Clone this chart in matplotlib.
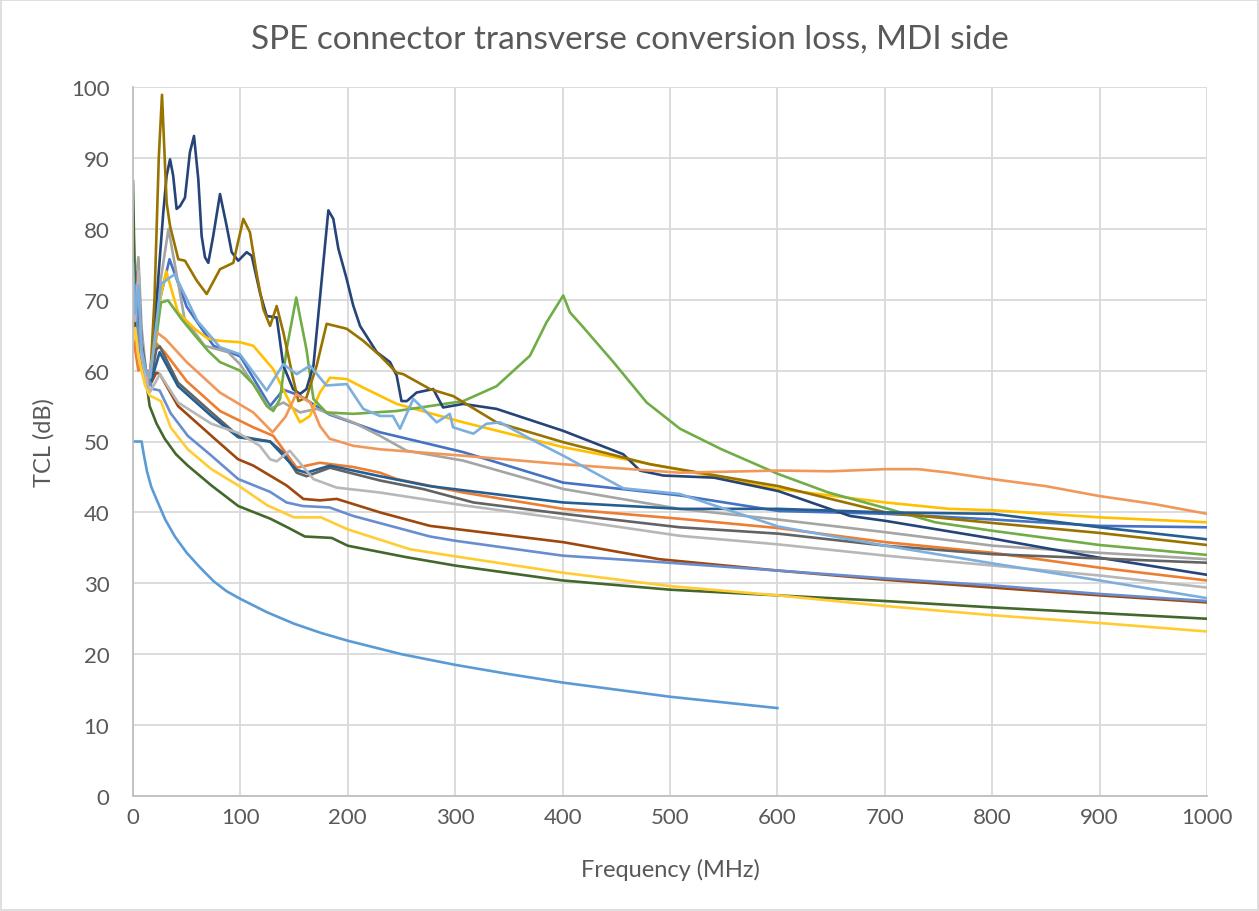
import matplotlib
matplotlib.use("Agg")
import matplotlib.pyplot as plt
from matplotlib.patches import Rectangle

plt.rcParams['font.family'] = ['Lato', 'DejaVu Sans']

# ---- data ----
f_limit = [0, 8, 10, 13, 17, 22, 30, 39, 50, 62, 75, 87, 100, 125, 150, 175, 200, 250, 300, 350, 400, 450, 500, 550, 600]
tcl_limit = [50, 50, 48.2, 45.8, 43.6, 41.8, 39.0, 36.6, 34.3, 32.3, 30.3, 28.9, 27.8, 25.9, 24.3, 23.0, 21.9, 20.0, 18.5, 17.2, 16.0, 15.0, 14.0, 13.2, 12.4]

f_dkgreen = [0, 2, 5, 8, 11, 15.5, 22, 29.5, 40, 51, 73, 98, 128, 145, 160, 185, 200, 254, 300, 400, 500, 600, 700, 800, 900, 1000]
tcl_dkgreen = [86.7, 70, 64, 62, 60, 55.0, 52.5, 50.4, 48.2, 46.6, 43.8, 40.9, 39.1, 37.8, 36.6, 36.4, 35.3, 33.7, 32.5, 30.4, 29.1, 28.3, 27.5, 26.6, 25.8, 25.0]

f_ltgold = [0, 2, 5, 8, 11, 15.5, 26, 35, 51, 73, 98, 125, 150, 175, 200, 258, 300, 400, 500, 600, 700, 800, 900, 1000]
tcl_ltgold = [64, 66, 62, 60, 58, 56.5, 55.7, 52, 48.9, 46.1, 43.8, 41.0, 39.3, 39.3, 37.6, 34.8, 33.8, 31.5, 29.6, 28.3, 26.8, 25.5, 24.4, 23.2]

f_blue2 = [0, 2, 5, 8, 11, 18.6, 24.8, 35, 51, 73, 98, 127.6, 143, 158, 183, 205, 276.5, 300, 400, 490, 600, 700, 800, 900, 1000]
tcl_blue2 = [68, 72, 64, 62, 60, 57.4, 57.2, 54, 50.8, 48.0, 44.7, 42.9, 41.4, 40.9, 40.7, 39.5, 36.6, 36.0, 33.9, 33.0, 31.8, 30.7, 29.7, 28.5, 27.5]

f_brown = [0, 2, 5, 8, 11, 17, 21.7, 25, 41.9, 73, 97.8, 112, 143, 158.6, 174, 189.7, 230, 276.5, 400.7, 490, 600, 700, 800, 900, 1000]
tcl_brown = [70, 74, 66, 63, 60, 58.3, 59.7, 59.5, 55.0, 50.8, 47.5, 46.6, 43.8, 41.9, 41.7, 41.9, 40.0, 38.1, 35.8, 33.4, 31.8, 30.5, 29.4, 28.3, 27.3]

f_ltorange = [0, 2, 5, 8, 12, 16, 22, 30, 50, 81, 112, 130, 142, 152, 165, 174, 183, 205, 230, 307, 400, 509, 601, 650, 700, 731, 760, 800, 850, 900, 950, 1000]
tcl_ltorange = [64, 66, 62, 60, 58, 60, 65.4, 64.5, 61.2, 56.9, 54.1, 51.3, 53.5, 56.7, 55.5, 52.2, 50.4, 49.4, 48.9, 48.0, 46.8, 45.6, 45.9, 45.8, 46.1, 46.1, 45.6, 44.7, 43.7, 42.3, 41.2, 39.8]

f_orange = [0, 2, 5, 8, 12, 16, 22, 30, 50, 81, 112, 130.6, 152.4, 174, 205, 230, 245.5, 307.5, 400.6, 509, 600, 700.8, 800.7, 900, 1000]
tcl_orange = [66, 63, 60, 61, 58, 59, 63.8, 62.5, 58.5, 54.3, 52.0, 50.8, 46.3, 47.0, 46.4, 45.6, 44.7, 42.8, 40.5, 39.1, 37.8, 35.8, 34.3, 32.2, 30.4]

f_dkgray = [0, 2, 5, 8, 12, 16, 21.7, 25, 41.9, 73, 98, 112, 127.6, 140, 152.4, 161.5, 183.4, 230, 270, 317, 400.6, 509, 601, 700.8, 800.7, 900, 1000]
tcl_dkgray = [74, 70, 73, 64, 60, 58, 63.0, 63.4, 58.3, 54.1, 50.8, 50.4, 50.0, 48.4, 45.6, 45.1, 46.3, 44.5, 43.3, 41.4, 39.8, 37.9, 37.0, 35.3, 34.1, 33.5, 32.9]

f_steel = [0, 2, 5, 8, 12, 16, 24.8, 41.9, 73, 98, 112, 127.6, 140, 152.4, 161.5, 183.4, 230, 276.5, 400.6, 509, 601, 700.8, 800.7, 900, 1000]
tcl_steel = [72, 68, 70, 63, 59, 58, 62.6, 57.8, 53.6, 50.6, 50.3, 50.0, 48.0, 46.0, 45.6, 46.6, 45.1, 43.7, 41.4, 40.5, 40.5, 40.0, 39.8, 37.9, 36.2]

f_ltgray = [0, 2, 5, 8, 12, 16, 25, 42, 73, 98, 118, 127.6, 133.8, 146, 168, 189.6, 230, 307.5, 400.6, 509, 600, 700.8, 800.7, 900, 1000]
tcl_ltgray = [73, 67, 74, 62, 59, 57, 59.5, 55.5, 52.5, 51.2, 49.4, 47.5, 47.2, 48.7, 44.7, 43.5, 42.8, 41.0, 39.1, 36.7, 35.5, 33.9, 32.5, 31.1, 29.4]

f_blue = [0, 2, 5, 8, 12, 16, 25, 34, 50, 75, 100, 127.6, 140, 155, 183, 230, 307.5, 400.6, 509, 601, 700.8, 800.7, 900, 1000]
tcl_blue = [79, 70, 75, 64, 60, 59, 70, 75.7, 69, 63.5, 62.0, 55.0, 57.3, 56.5, 53.8, 51.3, 48.5, 44.2, 42.4, 40.2, 39.8, 39.0, 38.1, 37.9]

f_gray = [0, 2, 5, 8, 12, 16, 25, 33, 48, 66.7, 88.5, 99.6, 127.6, 140, 155.5, 171, 205, 230, 254.8, 307.5, 400.6, 509, 600, 700.8, 800.7, 900, 1000]
tcl_gray = [82, 72, 76, 66, 60, 60, 72, 80, 67.3, 63.5, 62.6, 60.9, 54.6, 55.5, 54.1, 54.6, 52.7, 50.8, 48.7, 47.3, 43.3, 40.5, 39.0, 37.2, 35.3, 34.3, 33.4]

f_ltblue = [0, 2, 5, 8, 12, 16, 26, 38.8, 60, 81, 99.6, 124.5, 140, 152.4, 164.8, 180, 199, 214.4, 230, 242, 248.6, 261, 282.8, 295, 298, 317, 329, 341.7, 369.6, 400.6, 456.5, 509, 601, 700.8, 800.7, 900, 1000]
tcl_ltblue = [75, 68, 72, 63, 60, 59, 72.2, 73.6, 67, 63.3, 62.3, 57.2, 60.9, 59.5, 60.7, 57.9, 58.1, 54.6, 53.6, 53.6, 51.8, 56.0, 52.7, 53.9, 52.0, 51.1, 52.5, 52.7, 50.4, 48.0, 43.4, 42.6, 38.0, 35.3, 32.8, 30.4, 27.9]

f_gold = [0, 2, 5, 8, 12, 16, 22, 31, 41.9, 57.4, 69.8, 81, 99.6, 112, 130.6, 140, 149, 155.5, 164.8, 174, 183.4, 199, 214.4, 245.5, 307.5, 400.6, 509, 601, 700.8, 760, 800.7, 900, 1000]
tcl_gold = [80, 67, 72, 62, 59, 58, 68, 74, 68.2, 65.9, 64.5, 64.2, 64.0, 63.5, 60.2, 57.3, 54.6, 52.7, 53.6, 56.9, 59.0, 58.8, 57.6, 55.3, 52.7, 49.2, 46.0, 43.3, 41.4, 40.5, 40.3, 39.3, 38.6]

f_green = [0, 2, 5, 8, 12, 16, 26, 32.6, 45, 57.4, 69.8, 81, 99.6, 112, 124.5, 130.6, 136.9, 143, 152, 161.5, 168, 180, 205, 245.5, 276.5, 307.5, 338.5, 369.6, 385, 400.6, 406.9, 419.3, 447.3, 478.3, 509.3, 548, 601, 647.6, 700.8, 747, 800.7, 900, 1000]
tcl_green = [71, 65, 69, 62, 58, 58, 69.6, 69.9, 67.3, 65.0, 62.8, 61.2, 60.0, 58.1, 55.0, 54.3, 56.0, 63.0, 70.3, 63.0, 56.0, 54.1, 53.9, 54.3, 55.0, 55.7, 57.8, 62.1, 66.8, 70.6, 68.2, 66.1, 61.2, 55.5, 51.8, 48.9, 45.4, 42.8, 40.6, 38.6, 37.4, 35.4, 34.0]

f_dkgold = [0, 2, 5, 8, 12, 16, 20, 24, 27, 31.3, 34.5, 42.2, 48.4, 59.3, 68.6, 81, 93.4, 102.7, 108.9, 115, 121.3, 127.6, 133.8, 140, 149.2, 154, 161.5, 171, 180.3, 199, 214.4, 230, 245.5, 251.6, 276.5, 298.2, 338.5, 400.6, 481, 601, 700.8, 800.7, 900, 1000]
tcl_dkgold = [68, 64, 67, 62, 58, 59, 70, 90, 98.9, 83.7, 80.4, 75.7, 75.5, 72.7, 70.8, 74.3, 75.2, 81.4, 79.5, 73.8, 68.7, 66.3, 69.1, 65.4, 58.8, 55.7, 56.2, 60.7, 66.6, 65.9, 64.2, 62.1, 59.7, 59.5, 57.4, 56.4, 52.7, 49.9, 46.8, 43.7, 40.0, 38.5, 37.1, 35.4]

f_navy = [0, 2, 5, 8, 12, 16, 22, 28.2, 31.3, 34.5, 37.4, 40.6, 43.8, 48.4, 53, 56.8, 60.8, 63.9, 67, 70.1, 74.7, 81, 87.2, 91.9, 98, 105.8, 110.5, 118.2, 124.5, 133.8, 140, 149, 155.5, 161.5, 168, 174, 181.9, 186.5, 191.2, 199, 205, 211.4, 227, 239.3, 245.5, 250, 255, 264, 279.5, 288.7, 307.5, 338.5, 400.6, 456.5, 472, 493.8, 541, 601, 667.6, 700.8, 800.7, 900, 1000]
tcl_navy = [70, 66, 68, 62, 58, 59, 70, 82.3, 87.5, 89.8, 87.5, 82.8, 83.2, 84.4, 90.8, 93.1, 87.0, 79.0, 76.0, 75.2, 79.0, 84.9, 80.4, 76.7, 75.5, 76.7, 76.2, 71.0, 67.7, 67.5, 60.7, 57.4, 56.7, 57.4, 60.7, 70.1, 82.6, 81.4, 77.2, 72.9, 69.2, 66.3, 62.6, 61.2, 59.3, 55.7, 55.7, 56.9, 57.4, 54.8, 55.3, 54.6, 51.5, 48.2, 45.9, 45.2, 44.9, 43.0, 39.5, 38.8, 36.3, 33.6, 31.2]

series = [
    (f_limit, tcl_limit, '#5B9BD5'),
    (f_blue, tcl_blue, '#4472C4'),
    (f_orange, tcl_orange, '#ED7D31'),
    (f_gray, tcl_gray, '#A5A5A5'),
    (f_gold, tcl_gold, '#FFC000'),
    (f_green, tcl_green, '#70AD47'),
    (f_navy, tcl_navy, '#264478'),
    (f_brown, tcl_brown, '#9E480E'),
    (f_dkgray, tcl_dkgray, '#636363'),
    (f_dkgold, tcl_dkgold, '#997300'),
    (f_steel, tcl_steel, '#255E91'),
    (f_dkgreen, tcl_dkgreen, '#43682B'),
    (f_blue2, tcl_blue2, '#698ED0'),
    (f_ltorange, tcl_ltorange, '#F1975A'),
    (f_ltgray, tcl_ltgray, '#B7B7B7'),
    (f_ltgold, tcl_ltgold, '#FFCD33'),
    (f_ltblue, tcl_ltblue, '#7CAFDD'),
]

fig = plt.figure(figsize=(12.59, 9.12), dpi=100)
ax = fig.add_axes([133 / 1259, 1 - 797 / 912, (1207 - 133) / 1259, (797 - 88) / 912])

for fx, fy, col in series:
    ax.plot(fx, fy, color=col, lw=1.9, solid_joinstyle='round')

ax.set_xlim(0, 1000)
ax.set_ylim(0, 100)
ax.set_xticks(range(0, 1001, 100))
ax.set_yticks(range(0, 101, 10))
ax.grid(True, color='#D9D9D9', lw=1.3)
ax.set_axisbelow(True)
for s in ['top', 'right']:
    ax.spines[s].set_visible(False)
for s in ['left', 'bottom']:
    ax.spines[s].set_color('#BFBFBF')
    ax.spines[s].set_linewidth(1.3)
ax.tick_params(length=0, labelsize=16, colors='#595959')
ax.tick_params(axis='y', pad=17)
ax.tick_params(axis='x', pad=8)

ax.set_xlabel('Frequency (MHz)', fontsize=17, color='#595959', labelpad=22)
ax.set_ylabel('TCL (dB)', fontsize=17, color='#595959', labelpad=12)
fig.suptitle('SPE connector transverse conversion loss, MDI side', fontsize=24,
             color='#595959', y=1 - 40 / 912, va='center')

# chart-area border
fig.patches.append(Rectangle((0.001, 0.001), 0.998, 0.998, transform=fig.transFigure,
                             fill=False, edgecolor='#D9D9D9', lw=1.2))

fig.savefig('out.png', dpi=100)
